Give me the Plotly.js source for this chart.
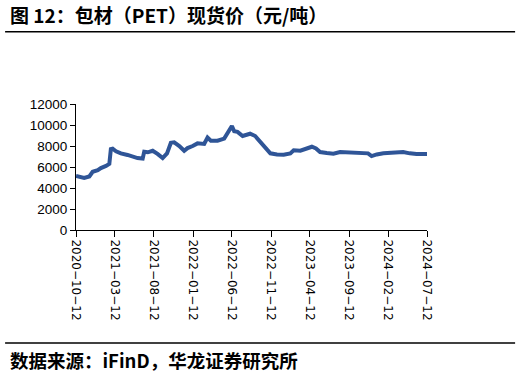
<!DOCTYPE html>
<html><head><meta charset="utf-8">
<script src="https://cdn.plot.ly/plotly-3.0.1.min.js"></script>
<style>html,body{margin:0;padding:0;background:#fff}#chart{width:520px;height:376px}</style>
</head><body><div id="chart"></div>
<script>
const dates = ['2020-10-12','2020-10-25','2020-11-13','2020-12-03','2020-12-16','2021-01-05','2021-01-17','2021-02-06','2021-02-19','2021-02-25','2021-03-04','2021-03-17','2021-04-05','2021-05-01','2021-05-21','2021-06-09','2021-06-29','2021-07-05','2021-07-19','2021-08-07','2021-08-26','2021-09-15','2021-10-02','2021-10-17','2021-10-30','2021-11-19','2021-12-08','2021-12-21','2022-01-10','2022-01-29','2022-02-24','2022-03-09','2022-03-22','2022-04-17','2022-05-13','2022-05-26','2022-06-12','2022-06-21','2022-07-04','2022-07-24','2022-08-22','2022-09-11','2022-10-01','2022-10-20','2022-11-09','2022-12-05','2022-12-31','2023-01-26','2023-02-08','2023-03-06','2023-04-01','2023-04-20','2023-05-06','2023-05-22','2023-06-17','2023-07-13','2023-08-08','2023-09-03','2023-10-05','2023-11-07','2023-11-25','2023-12-09','2023-12-29','2024-01-24','2024-03-02','2024-04-10','2024-05-06','2024-06-01','2024-07-12'];
const prices = [5150,5050,4950,5100,5550,5700,5900,6100,6300,7700,7750,7500,7300,7150,7000,6850,6800,7450,7400,7550,7250,6850,7300,8300,8350,8000,7550,7800,8000,8250,8200,8800,8500,8500,8700,9200,9900,9400,9350,8950,9170,8950,8400,7850,7300,7200,7170,7300,7600,7550,7750,7930,7770,7420,7330,7270,7420,7390,7300,7230,7300,7040,7200,7300,7360,7420,7300,7230,7230];
const tickDates = ['2020-10-12','2021-03-12','2021-08-12','2022-01-12','2022-06-12','2022-11-12','2023-04-12','2023-09-12','2024-02-12','2024-07-12'];
const tickLabels = ['2020−10−12','2021−03−12','2021−08−12','2022−01−12','2022−06−12','2022−11−12','2023−04−12','2023−09−12','2024−02−12','2024−07−12'];
const yTicks = [0,2000,4000,6000,8000,10000,12000];

const trace = {x: dates, y: prices, type: 'scatter', mode: 'lines',
  line: {color: '#2F5597', width: 4}, hoverinfo: 'skip'};

const layout = {
  width: 520, height: 376,
  margin: {l: 76, r: 93, t: 104, b: 146},
  paper_bgcolor: '#fff', plot_bgcolor: '#fff',
  showlegend: false,
  font: {family: 'Liberation Sans, Arial, sans-serif', size: 13, color: '#000'},
  xaxis: {type: 'date', range: ['2020-10-12','2024-07-12'],
    tickvals: tickDates, ticktext: tickLabels, tickangle: 90,
    showgrid: false, zeroline: false, showline: true, linecolor: '#000', linewidth: 1,
    ticks: 'outside', ticklen: 6, tickcolor: '#000',
    tickfont: {family: 'DejaVu Sans, sans-serif', size: 12, color: '#000'}},
  yaxis: {range: [0, 12000], tickvals: yTicks, ticktext: yTicks.map(String),
    showgrid: false, zeroline: false, showline: true, linecolor: '#000', linewidth: 1,
    ticks: 'outside', ticklen: 5, tickcolor: '#000',
    tickfont: {size: 13.5, color: '#000'}},
  shapes: [
    {type: 'line', xref: 'paper', yref: 'paper', x0: -0.202, x1: 1.251, y0: 1.573, y1: 1.573, line: {color: '#000', width: 1.5}},
    {type: 'line', xref: 'paper', yref: 'paper', x0: -0.202, x1: 1.251, y0: -0.897, y1: -0.897, line: {color: '#000', width: 1.5}}
  ],
  annotations: [
    {text: '<b>图 12：包材（PET）现货价（元/吨）</b>', xref: 'paper', yref: 'paper', x: -0.194, y: 1.714, xanchor: 'left', yanchor: 'middle', showarrow: false,
     font: {family: 'Noto Sans CJK SC, sans-serif', size: 19, color: '#000'}},
    {text: '<b>数据来源：iFinD，华龙证券研究所</b>', xref: 'paper', yref: 'paper', x: -0.194, y: -1.032, xanchor: 'left', yanchor: 'middle', showarrow: false,
     font: {family: 'Noto Sans CJK SC, sans-serif', size: 18.5, color: '#000'}}
  ]
};
Plotly.newPlot('chart', [trace], layout, {staticPlot: true, displayModeBar: false});
</script></body></html>
